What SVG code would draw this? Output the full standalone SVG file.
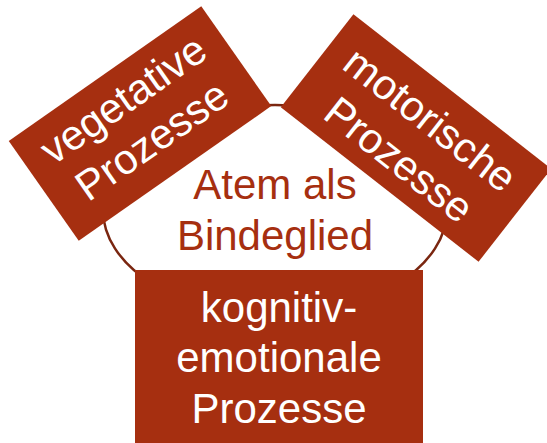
<svg xmlns="http://www.w3.org/2000/svg" width="547" height="443" viewBox="0 0 547 443">
<style>
.box{fill:#A62F10;}
.wt{fill:#FFFFFF;font-family:"Liberation Sans",Arial,sans-serif;font-size:42px;text-anchor:middle;}
.bt{fill:#A62F10;font-family:"Liberation Sans",Arial,sans-serif;font-size:42px;text-anchor:middle;}
</style>
<rect width="547" height="443" fill="#FFFFFF"/>
<g id="center">
<ellipse cx="275" cy="210" rx="172" ry="105" fill="#FFFFFF" stroke="#7A2610" stroke-width="2.5"/>
<text class="bt" x="275" y="199">Atem als</text>
<text class="bt" x="275" y="250">Bindeglied</text>
</g>
<g id="connectors"></g>
<g id="vegetative" transform="translate(140,123.5) rotate(-35)">
<rect class="box" x="-117.5" y="-61" width="235" height="122"/>
<text class="wt" x="0" y="-15">vegetative</text>
<text class="wt" x="0" y="35">Prozesse</text>
</g>
<g id="motorische" transform="translate(416,138) rotate(38)">
<rect class="box" x="-125.5" y="-59" width="251" height="118"/>
<text class="wt" x="0" y="-9">motorische</text>
<text class="wt" x="0" y="42">Prozesse</text>
</g>
<g id="kognitiv">
<rect class="box" x="135" y="270" width="288" height="173"/>
<text class="wt" x="279" y="322">kognitiv-</text>
<text class="wt" x="279" y="372">emotionale</text>
<text class="wt" x="279" y="423">Prozesse</text>
</g>
</svg>
